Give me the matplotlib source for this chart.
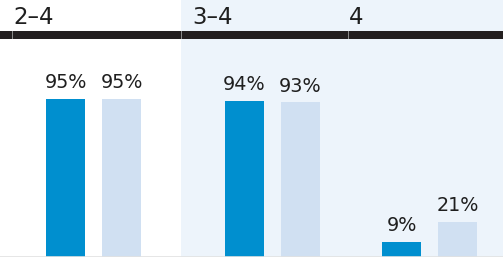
import matplotlib.pyplot as plt
from matplotlib.patches import Rectangle

plt.rcParams["font.family"] = ["DejaVu Sans"]

# data
categories = ["2–4", "3–4", "4"]
series_a = [95, 94, 9]
series_b = [95, 93, 21]

# layout (pixel-like units, x axis spans the 503 px width)
W, H = 503, 257
group_centers = [93.5, 272.5, 430]
section_starts = [12, 181, 348]
label_x = [13, 192, 349]
bar_w = 39
offset = 28

dark = "#008fcf"
light = "#d0e0f2"
shade = "#edf4fb"
ink = "#1f1f1f"

fig = plt.figure(figsize=(W / 100, H / 100), dpi=100)
ax = fig.add_axes([0, 0, 1, 1])
ax.set_xlim(0, W)
px = 1.658  # pixels per percent
ymin = -0.3
ax.set_ylim(ymin, ymin + H / px)
ax.axis("off")

# shaded right area
ax.axvspan(section_starts[1], W, color=shade, lw=0, zorder=0)

xa = [c - offset for c in group_centers]
xb = [c + offset for c in group_centers]
bars_a = ax.bar(xa, series_a, width=bar_w, color=dark, zorder=2)
bars_b = ax.bar(xb, series_b, width=bar_w, color=light, zorder=2)

for bars, vals in ((bars_a, series_a), (bars_b, series_b)):
    for b, v in zip(bars, vals):
        ax.annotate(f"{v}%", (b.get_x() + b.get_width() / 2, v),
                    xytext=(0, 7.6), textcoords="offset points",
                    ha="center", va="baseline", fontsize=13.8, color=ink)

ax.axhline(0, color="#e2e2e2", lw=1.2, zorder=3)

# header band
fig.add_artist(Rectangle((0, 1 - 39 / H), 1, 8 / H, transform=fig.transFigure,
                         color="#231f20", lw=0, zorder=5))
for s in section_starts:
    fig.add_artist(Rectangle((s / W, 1 - 39 / H), 1 / W, 8 / H,
                             transform=fig.transFigure, color="#8a8a8a",
                             lw=0, zorder=6))
for x, lab in zip(label_x, categories):
    fig.text(x / W, 1 - 24 / H, lab, ha="left", va="baseline",
             fontsize=16.5, color=ink)

fig.savefig("out.png", dpi=100)
